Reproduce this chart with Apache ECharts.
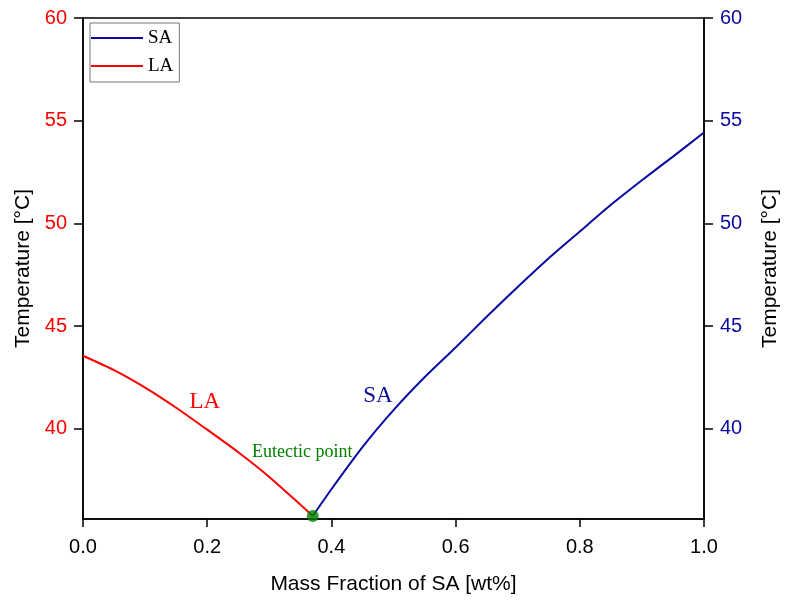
<!DOCTYPE html>
<html>
<head>
<meta charset="utf-8">
<script src="https://cdn.jsdelivr.net/npm/echarts@6/dist/echarts.min.js"></script>
<style>
  html, body { margin: 0; padding: 0; background: #fff; }
  #chart { width: 786px; height: 600px; }
</style>
</head>
<body>
<div id="chart"></div>
<script>
// liquidus of LA (left branch)
var laX = [0, 0.05, 0.1, 0.15, 0.2, 0.25, 0.3, 0.35, 0.37]
var laT = [43.55, 42.85, 42.0, 41.02, 39.95, 38.85, 37.65, 36.3, 35.75]
// liquidus of SA (right branch)
var saX = [0.37, 0.4, 0.45, 0.5, 0.55, 0.6, 0.65, 0.7, 0.75, 0.8, 0.85, 0.9, 0.95, 1.0]
var saT = [35.75, 37.05, 39.1, 40.9, 42.5, 43.95, 45.45, 46.9, 48.3, 49.6, 50.9, 52.1, 53.25, 54.42]
var eutectic = [0.37, 35.75]
var yTicks = [40, 45, 50, 55, 60]

var RED = '#ff0000'
var BLUE = '#0a0aa0'
var GREEN = '#008000'
var SANS = 'Liberation Sans, Arial, sans-serif'
var SERIF = 'Liberation Serif, Times New Roman, serif'

function pairs (xs, ys) {
  return xs.map(function (x, i) { return [x, ys[i]] })
}

var chart = echarts.init(document.getElementById('chart'))

function yAxisOf (pos, color, gap) {
  return {
    type: 'value',
    position: pos,
    min: 35.6,
    max: 60,
    name: 'Temperature [°C]',
    nameLocation: 'middle',
    nameGap: gap,
    nameTextStyle: { color: '#000', fontSize: 21, fontFamily: SANS },
    axisLine: { show: true, lineStyle: { color: '#000', width: 1.5 } },
    axisTick: { show: true, inside: false, length: 9, lineStyle: { color: '#000', width: 1.5 }, customValues: yTicks },
    axisLabel: { color: color, fontSize: 20, fontFamily: SANS, margin: 16, customValues: yTicks },
    splitLine: { show: false }
  }
}

var option = {
  backgroundColor: '#fff',
  animation: false,
  grid: {
    left: 83,
    right: 82,
    top: 18,
    bottom: 81,
    outerBoundsMode: 'none',
    containLabel: false,
    show: true,
    borderColor: '#000',
    borderWidth: 1.5
  },
  legend: {
    orient: 'vertical',
    left: 90,
    top: 23,
    padding: [4, 6, 5, 1],
    itemGap: 6,
    itemWidth: 52,
    itemHeight: 2,
    icon: 'rect',
    borderColor: '#777',
    borderWidth: 1,
    textStyle: { color: '#000', fontSize: 19, fontFamily: SERIF, lineHeight: 22 },
    data: ['SA', 'LA']
  },
  xAxis: {
    type: 'value',
    min: 0,
    max: 1,
    interval: 0.2,
    name: 'Mass Fraction of SA [wt%]',
    nameLocation: 'middle',
    nameGap: 55,
    nameTextStyle: { color: '#000', fontSize: 21, fontFamily: SANS },
    axisLine: { show: true, onZero: false, lineStyle: { color: '#000', width: 1.5 } },
    axisTick: { show: true, inside: false, length: 8, lineStyle: { color: '#000', width: 1.5 } },
    axisLabel: {
      color: '#000',
      fontSize: 20,
      fontFamily: SANS,
      margin: 18,
      formatter: function (v) { return v.toFixed(1) }
    },
    splitLine: { show: false }
  },
  yAxis: [yAxisOf('left', RED, 48), yAxisOf('right', BLUE, 56)],
  series: [
    {
      name: 'SA',
      type: 'line',
      yAxisIndex: 1,
      data: pairs(saX, saT),
      smooth: 0.2,
      showSymbol: false,
      color: BLUE,
      lineStyle: { color: BLUE, width: 2 },
      markPoint: {
        symbol: 'circle',
        symbolSize: 1,
        itemStyle: { color: 'transparent' },
        label: { show: true, color: BLUE, fontSize: 23, fontFamily: SERIF, formatter: 'SA' },
        data: [{ coord: [0.475, 41.6] }]
      },
      z: 3
    },
    {
      name: 'LA',
      type: 'line',
      yAxisIndex: 0,
      data: pairs(laX, laT),
      smooth: 0.2,
      showSymbol: false,
      color: RED,
      lineStyle: { color: RED, width: 2 },
      markPoint: {
        symbol: 'circle',
        symbolSize: 1,
        itemStyle: { color: 'transparent' },
        label: { show: true, color: RED, fontSize: 23, fontFamily: SERIF, formatter: 'LA' },
        data: [{ coord: [0.196, 41.3] }]
      },
      z: 3
    },
    {
      name: 'Eutectic point',
      type: 'scatter',
      yAxisIndex: 0,
      data: [eutectic],
      symbol: 'circle',
      symbolSize: 12,
      itemStyle: { color: GREEN },
      markPoint: {
        symbol: 'circle',
        symbolSize: 1,
        itemStyle: { color: 'transparent' },
        label: { show: true, color: GREEN, fontSize: 18, fontFamily: SERIF, formatter: 'Eutectic point' },
        data: [{ coord: [0.353, 38.87] }]
      },
      z: 5
    }
  ]
}

chart.setOption(option)
</script>
</body>
</html>
